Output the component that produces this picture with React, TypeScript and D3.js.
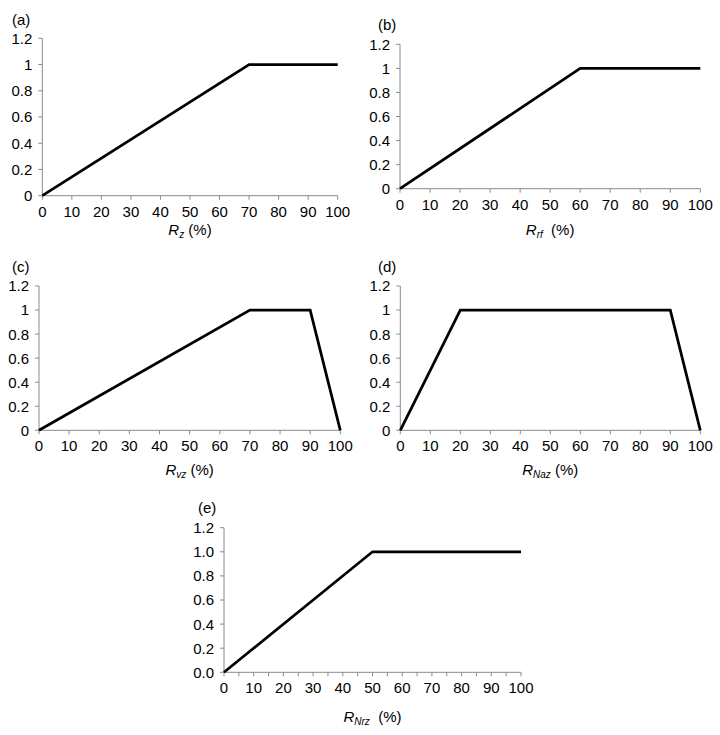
import React from "react";
import * as d3 from "d3";

type Pt = [number, number];

const xTicks = [0, 10, 20, 30, 40, 50, 60, 70, 80, 90, 100];
const xMinorTicksE = [5, 15, 25, 35, 45, 55, 65, 75, 85, 95];
const yTicks = [0, 0.2, 0.4, 0.6, 0.8, 1.0, 1.2];

const seriesA: Pt[] = [[0, 0], [70, 1], [100, 1]];
const seriesB: Pt[] = [[0, 0], [60, 1], [100, 1]];
const seriesC: Pt[] = [[0, 0], [70, 1], [90, 1], [100, 0]];
const seriesD: Pt[] = [[0, 0], [20, 1], [90, 1], [100, 0]];
const seriesE: Pt[] = [[0, 0], [50, 1], [100, 1]];

const panelLabels = ["(a)", "(b)", "(c)", "(d)", "(e)"];
const titleSubs = ["z", "rf", "vz", "Naz", "Nrz"];
const titleSuffix = [" (%)", "  (%)", " (%)", " (%)", "  (%)"];

const FONT = "'Liberation Sans', Arial, sans-serif";
const AXIS = "#8a8a8a";

interface PanelProps {
  left: number; right: number; top: number; bottom: number;
  data: Pt[]; label: string; labelX: number; labelY: number;
  sub: string; suffix: string; titleY: number;
  yFmt: (v: number) => string; minor?: number[];
}

function Panel(p: PanelProps) {
  const x = d3.scaleLinear().domain([0, 100]).range([p.left, p.right]);
  const y = d3.scaleLinear().domain([0, 1.2]).range([p.bottom, p.top]);
  const line = d3.line<Pt>().x(d => x(d[0])).y(d => y(d[1]));
  const cx = (p.left + p.right) / 2;
  return (
    <g fontFamily={FONT} fill="#000">
      <text x={p.labelX} y={p.labelY} fontSize={15}>{p.label}</text>
      {/* y axis */}
      <line x1={p.left} x2={p.left} y1={p.top} y2={p.bottom} stroke={AXIS} strokeWidth={1} />
      {yTicks.map(t => (
        <g key={"y" + t}>
          <line x1={p.left - 4} x2={p.left} y1={y(t)} y2={y(t)} stroke={AXIS} />
          <text x={p.left - 10} y={y(t)} dy="0.36em" textAnchor="end" fontSize={15}>{p.yFmt(t)}</text>
        </g>
      ))}
      {/* x axis */}
      <line x1={p.left} x2={p.right} y1={p.bottom} y2={p.bottom} stroke={AXIS} strokeWidth={1} />
      {xTicks.map(t => (
        <g key={"x" + t}>
          <line x1={x(t)} x2={x(t)} y1={p.bottom} y2={p.bottom + 4} stroke={AXIS} />
          <text x={x(t)} y={p.bottom + 21} textAnchor="middle" fontSize={15}>{t}</text>
        </g>
      ))}
      {(p.minor || []).map(t => (
        <line key={"m" + t} x1={x(t)} x2={x(t)} y1={p.bottom} y2={p.bottom + 4} stroke={AXIS} />
      ))}
      <path d={line(p.data) || ""} fill="none" stroke="#000" strokeWidth={2.75} strokeLinejoin="miter" />
      <text x={cx} y={p.titleY} textAnchor="middle" fontSize={15}>
        <tspan fontStyle="italic">R</tspan>
        <tspan fontStyle="italic" fontSize={10} dy={3}>{p.sub}</tspan>
        <tspan dy={-3} style={{ whiteSpace: "pre" }}>{p.suffix}</tspan>
      </text>
    </g>
  );
}

const fmtA = (v: number) => (v === 0 || v === 1 ? String(v) : v.toFixed(1));
const fmtE = (v: number) => v.toFixed(1);

export default function App() {
  return (
    <svg width={720} height={735} style={{ position: "absolute", left: 0, top: 0, background: "#fff" }}>
      <rect width={720} height={735} fill="#fff" />
      <Panel left={42.3} right={337.7} top={38.3} bottom={195.7} data={seriesA}
        label={panelLabels[0]} labelX={12} labelY={25} sub={titleSubs[0]} suffix={titleSuffix[0]}
        titleY={235} yFmt={fmtA} />
      <Panel left={400} right={700.3} top={44.3} bottom={188.7} data={seriesB}
        label={panelLabels[1]} labelX={378} labelY={30} sub={titleSubs[1]} suffix={titleSuffix[1]}
        titleY={235} yFmt={fmtA} />
      <Panel left={39} right={340.3} top={286} bottom={430.3} data={seriesC}
        label={panelLabels[2]} labelX={12} labelY={272} sub={titleSubs[2]} suffix={titleSuffix[2]}
        titleY={475} yFmt={fmtA} />
      <Panel left={400.3} right={700.3} top={286} bottom={430.3} data={seriesD}
        label={panelLabels[3]} labelX={378} labelY={272} sub={titleSubs[3]} suffix={titleSuffix[3]}
        titleY={475} yFmt={fmtA} />
      <Panel left={224} right={521} top={527.7} bottom={672.3} data={seriesE}
        label={panelLabels[4]} labelX={198} labelY={513} sub={titleSubs[4]} suffix={titleSuffix[4]}
        titleY={722} yFmt={fmtE} minor={xMinorTicksE} />
    </svg>
  );
}
